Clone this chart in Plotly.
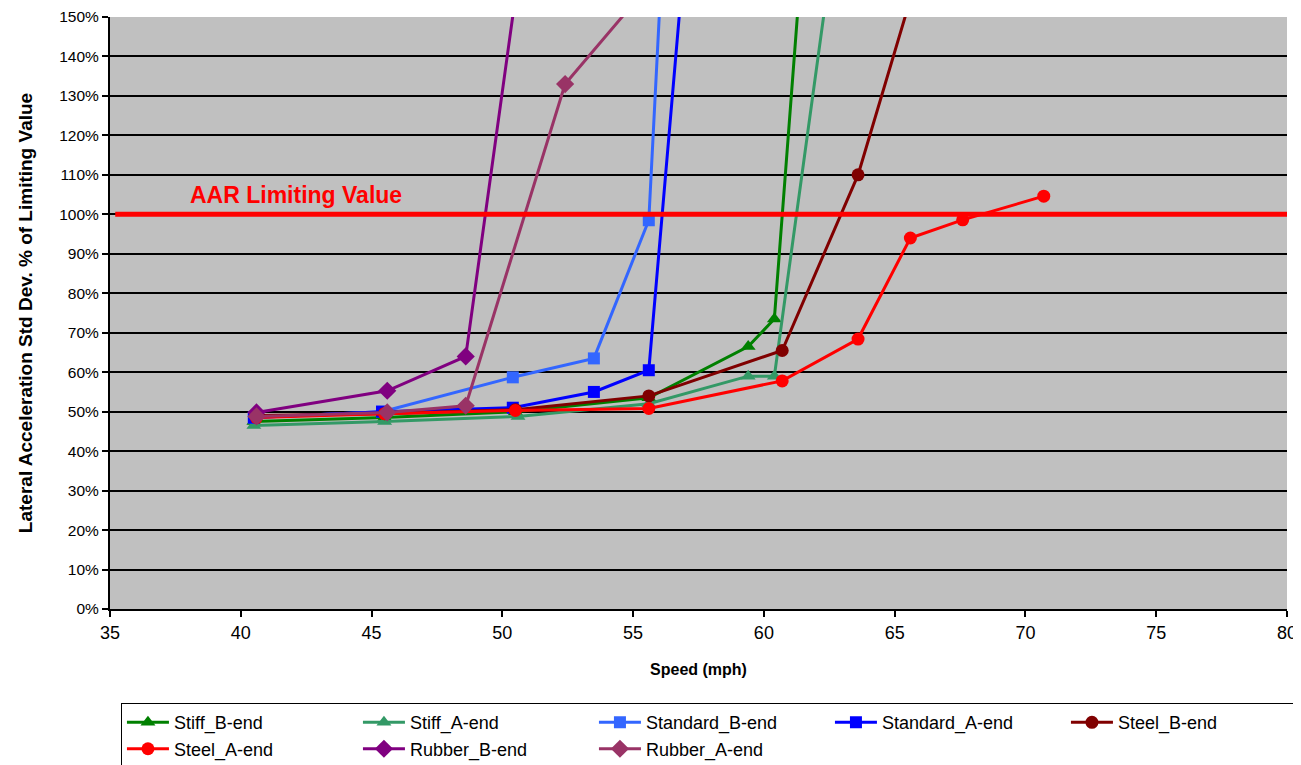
import plotly.graph_objects as go

# ---- data (speed in mph, value in % of limiting value) ----
stiff_b_x = [40.5, 45.5, 50.5, 55.6, 59.4, 60.4, 62.0]
stiff_b_y = [47.5, 48.5, 50.0, 53.5, 66.5, 73.5, 213]

stiff_a_x = [40.5, 45.5, 50.6, 55.6, 59.4, 60.4, 63.5]
stiff_a_y = [46.5, 47.5, 48.8, 52.0, 59.0, 59.0, 209]

standard_b_x = [40.5, 45.4, 50.4, 53.5, 55.6, 56.5]
standard_b_y = [48.5, 50.0, 58.7, 63.5, 98.5, 215]

standard_a_x = [40.5, 45.4, 50.4, 53.5, 55.6, 57.5]
standard_a_y = [48.5, 50.0, 51.0, 55.0, 60.5, 207]

steel_b_x = [40.6, 45.5, 50.5, 55.6, 60.7, 63.6, 67.6]
steel_b_y = [49.0, 49.5, 50.5, 54.0, 65.5, 110.0, 199]

steel_a_x = [40.6, 45.5, 50.5, 55.6, 60.7, 63.6, 65.6, 67.6, 70.7]
steel_a_y = [48.5, 49.5, 50.3, 50.8, 57.8, 68.4, 94.0, 98.6, 104.6]

rubber_b_x = [40.6, 45.6, 48.6, 51.5]
rubber_b_y = [49.8, 55.3, 64.0, 203]

rubber_a_x = [40.6, 45.6, 48.6, 52.4, 55.6]
rubber_a_y = [48.8, 49.8, 51.5, 133.0, 158]

series_names = ["Stiff_B-end", "Stiff_A-end", "Standard_B-end", "Standard_A-end",
                "Steel_B-end", "Steel_A-end", "Rubber_B-end", "Rubber_A-end"]

aar_limit = 100
aar_label = "AAR Limiting Value"
x_ticks = [35, 40, 45, 50, 55, 60, 65, 70, 75, 80]
y_ticks = list(range(0, 151, 10))
y_tick_labels = [f"{v}%" for v in y_ticks]

# ---- styles ----
styles = [
    ("#008000", "triangle-up", 13),
    ("#339966", "triangle-up", 13),
    ("#3366FF", "square", 12),
    ("#0000FF", "square", 12),
    ("#800000", "circle", 13),
    ("#FF0000", "circle", 13),
    ("#800080", "diamond", 14),
    ("#993366", "diamond", 14),
]
data = [
    (stiff_b_x, stiff_b_y), (stiff_a_x, stiff_a_y),
    (standard_b_x, standard_b_y), (standard_a_x, standard_a_y),
    (steel_b_x, steel_b_y), (steel_a_x, steel_a_y),
    (rubber_b_x, rubber_b_y), (rubber_a_x, rubber_a_y),
]

FONT = "Liberation Sans, Arial, sans-serif"

fig = go.Figure()
for name, (xs, ys), (col, sym, sz) in zip(series_names, data, styles):
    fig.add_trace(go.Scatter(
        x=xs, y=ys, name=name, mode="lines+markers",
        line=dict(color=col, width=3),
        marker=dict(color=col, symbol=sym, size=sz, line=dict(width=0)),
    ))

fig.add_shape(type="line", xref="x", yref="y", x0=35.2, x1=80,
              y0=aar_limit, y1=aar_limit, line=dict(color="#FF0000", width=5),
              layer="above")
fig.add_annotation(x=38.0, y=aar_limit + 5, xref="x", yref="y", text=f"<b>{aar_label}</b>",
                   showarrow=False, xanchor="left", yanchor="middle",
                   font=dict(family=FONT, size=23, color="#FF0000"))

# the page body adds an 8px offset, so margins are shifted by 8px
fig.update_layout(
    width=1301, height=757,
    margin=dict(l=102, r=22, t=9, b=156, autoexpand=False),
    paper_bgcolor="white", plot_bgcolor="#C0C0C0",
    font=dict(family=FONT, color="black"),
    showlegend=True,
    legend=dict(orientation="h", x=0.0093, xanchor="left", y=-0.159, yanchor="top",
                bordercolor="black", borderwidth=1, bgcolor="white",
                font=dict(family=FONT, size=18, color="black"),
                entrywidth=179, entrywidthmode="pixels", itemwidth=42,
                tracegroupgap=0, traceorder="normal"),
)
fig.update_xaxes(range=[35, 80], tickvals=x_ticks, ticks="outside", ticklen=6,
                 tickcolor="black", tickwidth=1.5, showgrid=False, zeroline=False,
                 showline=True, linecolor="black", linewidth=2, mirror=False,
                 automargin=False,
                 tickfont=dict(family=FONT, size=18, color="black"),
                 title=dict(text="<b>Speed (mph)</b>", font=dict(family=FONT, size=16), standoff=22))
fig.update_yaxes(range=[0, 150], tickvals=y_ticks, ticktext=y_tick_labels,
                 ticks="outside", ticklen=6,
                 tickcolor="black", tickwidth=1.5, showgrid=True, gridcolor="black", gridwidth=1.5,
                 zeroline=False, showline=True, linecolor="black", linewidth=2,
                 automargin=False,
                 tickfont=dict(family=FONT, size=15.5, color="black"),
                 title=dict(text="<b>Lateral Acceleration Std Dev. % of Limiting Value</b>",
                            font=dict(family=FONT, size=19), standoff=22))

fig.write_html("out.html")
